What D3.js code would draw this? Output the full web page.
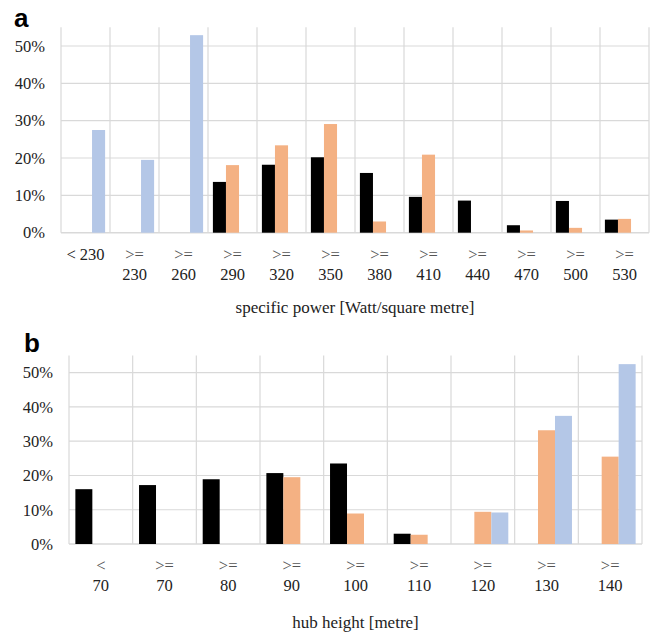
<!DOCTYPE html>
<html>
<head>
<meta charset="utf-8">
<script src="https://cdn.jsdelivr.net/npm/d3@7"></script>
<style>
  body { margin: 0; background: #fff; }
  svg { display: block; }
</style>
</head>
<body>
<div class="chart"></div>
<script>
// values (share of turbines, 0..1)
const yTicks = [0, 0.1, 0.2, 0.3, 0.4, 0.5];
const seriesNames = ['black', 'orange', 'blue'];
const seriesColors = ['#000000', '#f4b183', '#b4c7e7'];

const powerCats = ['< 230', '>=\n230', '>=\n260', '>=\n290', '>=\n320', '>=\n350',
  '>=\n380', '>=\n410', '>=\n440', '>=\n470', '>=\n500', '>=\n530'];
const powerBlack  = [0, 0, 0, 0.136, 0.182, 0.202, 0.160, 0.096, 0.086, 0.020, 0.085, 0.035];
const powerOrange = [0, 0, 0, 0.181, 0.234, 0.291, 0.030, 0.209, 0, 0.006, 0.013, 0.037];
const powerBlue   = [0.275, 0.195, 0.529, 0, 0, 0, 0, 0, 0, 0, 0, 0];

const hubCats = ['<\n70', '>=\n70', '>=\n80', '>=\n90', '>=\n100', '>=\n110', '>=\n120', '>=\n130', '>=\n140'];
const hubBlack  = [0.160, 0.172, 0.189, 0.207, 0.235, 0.030, 0, 0, 0];
const hubOrange = [0, 0, 0, 0.195, 0.089, 0.027, 0.094, 0.332, 0.255];
const hubBlue   = [0, 0, 0, 0, 0, 0, 0.092, 0.374, 0.525];

const W = 654, H = 636;
const serif = '"Liberation Serif", "Times New Roman", serif';

const svg = d3.select('.chart').append('svg')
  .attr('width', W)
  .attr('height', H);

function drawPanel({Label, LabelX, LabelY, Cats, Values, Left, Right, Zero, Fifty, Title, TitleDy}) {
  // 데이터 정리
  const rows = [];
  Cats.forEach((c, i) => {
    seriesNames.forEach((s, j) => rows.push({cat: c, series: s, value: Values[j][i]}));
  });

  const x = d3.scaleBand().domain(Cats).range([Left, Right]).padding(0);
  const pad = x.bandwidth() * 0.1;
  const xz = d3.scaleBand().domain(seriesNames).range([pad, x.bandwidth() - pad]).padding(0);
  const y = d3.scaleLinear().domain([0, 0.5]).range([Zero, Fifty]);
  const color = d3.scaleOrdinal(seriesNames, seriesColors);

  const g = svg.append('g');

  // horizontal grid
  g.append('g')
    .selectAll('line')
    .data(yTicks)
    .join('line')
      .attr('x1', Left).attr('x2', Right)
      .attr('y1', d => y(d)).attr('y2', d => y(d))
      .attr('stroke', '#d9d9d9')
      .attr('stroke-width', d => d === 0 ? 1.6 : 1.2);

  // vertical grid at category edges
  const edges = Cats.map(c => x(c)).concat([Right]);
  g.append('g')
    .selectAll('line')
    .data(edges)
    .join('line')
      .attr('x1', d => d).attr('x2', d => d)
      .attr('y1', y(0.55)).attr('y2', y(0))
      .attr('stroke', '#d9d9d9')
      .attr('stroke-width', 1.2);

  // bars
  g.append('g')
    .selectAll('rect')
    .data(rows.filter(d => d.value > 0))
    .join('rect')
      .attr('x', d => x(d.cat) + xz(d.series))
      .attr('y', d => y(d.value))
      .attr('width', xz.bandwidth())
      .attr('height', d => y(0) - y(d.value))
      .attr('fill', d => color(d.series));

  // y axis labels
  const yAxis = d3.axisLeft(y).tickValues(yTicks).tickFormat(d3.format('.0%')).tickSize(0).tickPadding(16);
  g.append('g')
    .attr('transform', `translate(${Left},0)`)
    .call(yAxis)
    .call(a => a.select('.domain').remove())
    .call(a => a.selectAll('text')
      .attr('font-family', serif)
      .attr('font-size', 16.5)
      .attr('fill', '#222'));

  // x axis labels (two lines)
  const xl = g.append('g')
    .selectAll('text')
    .data(Cats)
    .join('text')
      .attr('x', d => x(d) + x.bandwidth() / 2)
      .attr('y', y(0) + 27)
      .attr('text-anchor', 'middle')
      .attr('font-family', serif)
      .attr('font-size', 16.5)
      .attr('fill', '#222');
  xl.selectAll('tspan')
    .data(d => d.split('\n'))
    .join('tspan')
      .attr('x', function() { return d3.select(this.parentNode).attr('x'); })
      .attr('dy', (d, i) => i === 0 ? 0 : 20)
      .attr('fill', d => d.startsWith('>') || d === '<' ? '#555' : '#222')
      .text(d => d);

  // axis title
  g.append('text')
    .attr('x', (Left + Right) / 2)
    .attr('y', y(0) + TitleDy)
    .attr('text-anchor', 'middle')
    .attr('font-family', serif)
    .attr('font-size', 17)
    .attr('fill', '#222')
    .text(Title);

  // panel letter
  svg.append('text')
    .attr('x', LabelX)
    .attr('y', LabelY)
    .attr('font-family', '"Liberation Sans", Arial, sans-serif')
    .attr('font-weight', 'bold')
    .attr('font-size', 26)
    .text(Label);
}

drawPanel({
  Label: 'a', LabelX: 14, LabelY: 27,
  Cats: powerCats, Values: [powerBlack, powerOrange, powerBlue],
  Left: 61, Right: 649, Zero: 232.7, Fifty: 46,
  Title: 'specific power [Watt/square metre]', TitleDy: 80
});

drawPanel({
  Label: 'b', LabelX: 24, LabelY: 352,
  Cats: hubCats, Values: [hubBlack, hubOrange, hubBlue],
  Left: 69, Right: 642, Zero: 544, Fifty: 372.7,
  Title: 'hub height [metre]', TitleDy: 84
});
</script>
</body>
</html>
